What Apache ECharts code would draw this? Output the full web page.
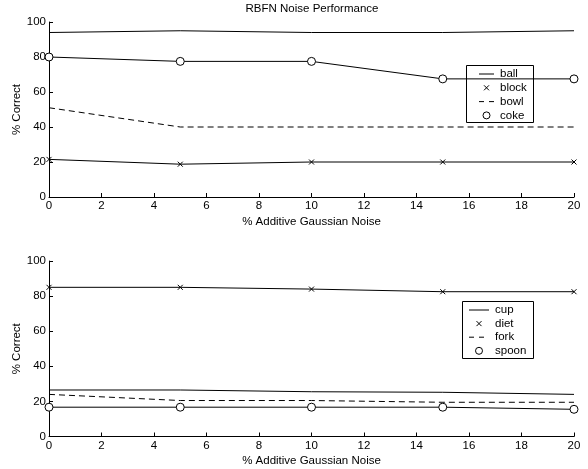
<!DOCTYPE html>
<html><head><meta charset="utf-8">
<script src="https://cdn.jsdelivr.net/npm/echarts@6/dist/echarts.min.js"></script>
<style>html,body{margin:0;padding:0;background:#fff}#c{width:588px;height:469px}</style>
</head><body><div id="c"></div>
<script>
const noise = [0, 5, 10, 15, 20];
// top panel
const ball  = [94, 95, 94, 94, 95];
const block = [21.5, 18.75, 20, 20, 20];
const bowl  = [51, 40, 40, 40, 40];
const coke  = [80, 77.5, 77.5, 67.5, 67.5];
// bottom panel
const cup   = [26.5, 26.5, 25.5, 25.2, 24];
const diet  = [85, 85, 84, 82.5, 82.5];
const fork  = [24, 20.5, 20.5, 19.5, 19.5];
const spoon = [16.7, 16.7, 16.7, 16.7, 15.5];

const titleText = 'RBFN Noise Performance';
const xName = '% Additive Gaussian Noise';
const yName = '% Correct';
const topNames = ['ball', 'block', 'bowl', 'coke'];
const botNames = ['cup', 'diet', 'fork', 'spoon'];
const styles = ['solid', 'x', 'dash', 'circle'];

const FONT = 'Liberation Sans';
const FS = 11.5;
const X_PATH = 'path://M0,0L10,10M10,0L0,10';

function pts(arr) { return noise.map((x, i) => [x, arr[i]]); }

function mkSeries(name, arr, style, idx) {
  const s = {
    name, type: 'line', xAxisIndex: idx, yAxisIndex: idx, data: pts(arr),
    silent: true, animation: false, z: 3,
    lineStyle: { color: '#000', width: 1, type: style === 'dash' ? [6, 4] : 'solid' },
    symbol: 'none'
  };
  if (style === 'x') {
    s.symbol = X_PATH; s.symbolSize = 5;
    s.itemStyle = { color: 'rgba(0,0,0,0)', borderColor: '#000', borderWidth: 1 };
  } else if (style === 'circle') {
    s.symbol = 'circle'; s.symbolSize = 8;
    s.itemStyle = { color: '#fff', borderColor: '#000', borderWidth: 1 };
  }
  return s;
}

function xAx(idx) {
  return {
    type: 'value', gridIndex: idx, min: 0, max: 20, interval: 2,
    name: xName, nameLocation: 'middle', nameGap: 18.5, nameMoveOverlap: false,
    nameTextStyle: { color: '#000', fontSize: FS, fontFamily: FONT },
    axisLine: { show: true, lineStyle: { color: '#000', width: 1 } },
    axisTick: { show: true, inside: true, length: 4, lineStyle: { color: '#000' } },
    axisLabel: { color: '#000', fontSize: FS, fontFamily: FONT, margin: 3 },
    splitLine: { show: false }
  };
}
function yAx(idx) {
  return {
    type: 'value', gridIndex: idx, min: 0, max: 100, interval: 20,
    name: yName, nameLocation: 'middle', nameGap: 26, nameRotate: 90, nameMoveOverlap: false,
    nameTextStyle: { color: '#000', fontSize: FS, fontFamily: FONT },
    axisLine: { show: true, lineStyle: { color: '#000', width: 1 } },
    axisTick: { show: true, inside: true, length: 4, lineStyle: { color: '#000' } },
    axisLabel: { color: '#000', fontSize: FS, fontFamily: FONT, margin: 3 },
    splitLine: { show: false }
  };
}

function legend(bx, by, bw, bh, names, row0, step, lx0, lx1, tx) {
  const ch = [{ type: 'rect', shape: { x: bx, y: by, width: bw, height: bh },
    style: { fill: '#fff', stroke: '#000', lineWidth: 1 } }];
  names.forEach((n, i) => {
    const y = row0 + i * step;
    const st = styles[i];
    const mx = (lx0 + lx1) / 2;
    if (st === 'solid' || st === 'dash') {
      ch.push({ type: 'line', shape: { x1: lx0, y1: y, x2: lx1, y2: y },
        style: { stroke: '#000', lineWidth: 1, lineDash: st === 'dash' ? [5, 5] : null } });
    } else if (st === 'x') {
      ch.push({ type: 'polyline', shape: { points: [[mx - 2.5, y - 2.5], [mx + 2.5, y + 2.5]] }, style: { stroke: '#000', lineWidth: 1 } });
      ch.push({ type: 'polyline', shape: { points: [[mx + 2.5, y - 2.5], [mx - 2.5, y + 2.5]] }, style: { stroke: '#000', lineWidth: 1 } });
    } else {
      ch.push({ type: 'circle', shape: { cx: mx, cy: y, r: 3.5 }, style: { fill: '#fff', stroke: '#000', lineWidth: 1 } });
    }
    ch.push({ type: 'text', x: tx, y: y, style: { text: n, fill: '#000', font: FS + 'px "' + FONT + '"', verticalAlign: 'middle' } });
  });
  return { type: 'group', z: 10, children: ch };
}

const chart = echarts.init(document.getElementById('c'), null, { renderer: 'canvas' });
chart.setOption({
  animation: false,
  backgroundColor: '#fff',
  title: { text: titleText, left: 312, textAlign: 'center', top: 3, padding: 0,
    textStyle: { color: '#000', fontSize: FS, fontWeight: 'normal', fontFamily: FONT } },
  grid: [
    { left: 49, right: 14, top: 22, height: 175, containLabel: false, outerBoundsMode: 'none' },
    { left: 49, right: 14, top: 261, height: 175.5, containLabel: false, outerBoundsMode: 'none' }
  ],
  xAxis: [xAx(0), xAx(1)],
  yAxis: [yAx(0), yAx(1)],
  series: [
    mkSeries(topNames[0], ball, styles[0], 0),
    mkSeries(topNames[1], block, styles[1], 0),
    mkSeries(topNames[2], bowl, styles[2], 0),
    mkSeries(topNames[3], coke, styles[3], 0),
    mkSeries(botNames[0], cup, styles[0], 1),
    mkSeries(botNames[1], diet, styles[1], 1),
    mkSeries(botNames[2], fork, styles[2], 1),
    mkSeries(botNames[3], spoon, styles[3], 1)
  ],
  graphic: [
    legend(466.5, 65.5, 67, 57, topNames, 74, 13.8, 479, 494, 500),
    legend(462.5, 301.5, 71, 57, botNames, 310, 13.6, 469, 489, 495)
  ]
});
</script></body></html>
